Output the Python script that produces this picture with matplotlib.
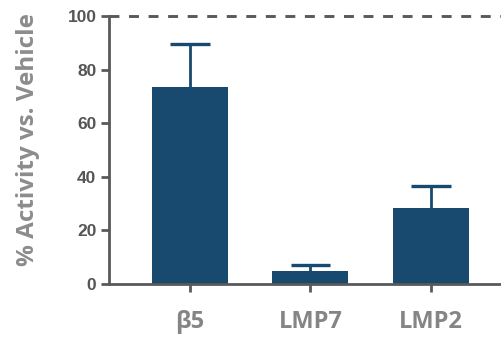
import matplotlib
matplotlib.use("Agg")
import matplotlib.pyplot as plt

categories = ["β5", "LMP7", "LMP2"]
activity = [73.6, 5.0, 28.4]
sem = [15.8, 2.1, 8.2]
yticks = [0, 20, 40, 60, 80, 100]

bar_color = "#174A6E"
axis_color = "#595959"

plt.rcParams["font.family"] = ["Open Sans", "DejaVu Sans"]
plt.rcParams["font.weight"] = "bold"

fig = plt.figure(figsize=(5.02, 3.38), dpi=100)
ax = fig.add_axes([109 / 502, (338 - 284) / 338, 1 - 109 / 502, (284 - 16) / 338])

x = list(range(len(categories)))
ax.bar(x, activity, width=0.63, color=bar_color, zorder=2)

# upper-only error bars: stem plus cap
tops = [a + s for a, s in zip(activity, sem)]
ax.vlines(x, activity, tops, color=bar_color, lw=2.0, zorder=1)
cap_half = 0.165
ax.hlines(tops, [xi - cap_half for xi in x], [xi + cap_half for xi in x],
          color=bar_color, lw=2.4, zorder=1)

ax.axhline(100, color=axis_color, lw=2.1, dashes=(3.4, 3.3), zorder=3, clip_on=False)

ax.set_xlim(-0.672, 2.59)
ax.set_ylim(0, 100)
ax.set_yticks(yticks)
ax.set_yticklabels([str(t) for t in yticks], family="Liberation Sans",
                   fontweight="bold", fontsize=12.5, color="#555555")
ax.set_xticks(x)
ax.set_xticklabels(categories, fontsize=17, color="#858585", fontweight="bold")
ax.tick_params(axis="x", length=6, width=2, color=axis_color, pad=13)
ax.tick_params(axis="y", length=6, width=2, color=axis_color, pad=3)

for side in ("top", "right"):
    ax.spines[side].set_visible(False)
for side in ("left", "bottom"):
    ax.spines[side].set_color(axis_color)
    ax.spines[side].set_linewidth(2)

fig.text(28 / 502, 1 - 140 / 338, "% Activity vs. Vehicle", rotation=90,
         ha="center", va="center", fontsize=17.5, color="#8c8c8c",
         fontweight="bold")

fig.savefig("out.png", dpi=100)
